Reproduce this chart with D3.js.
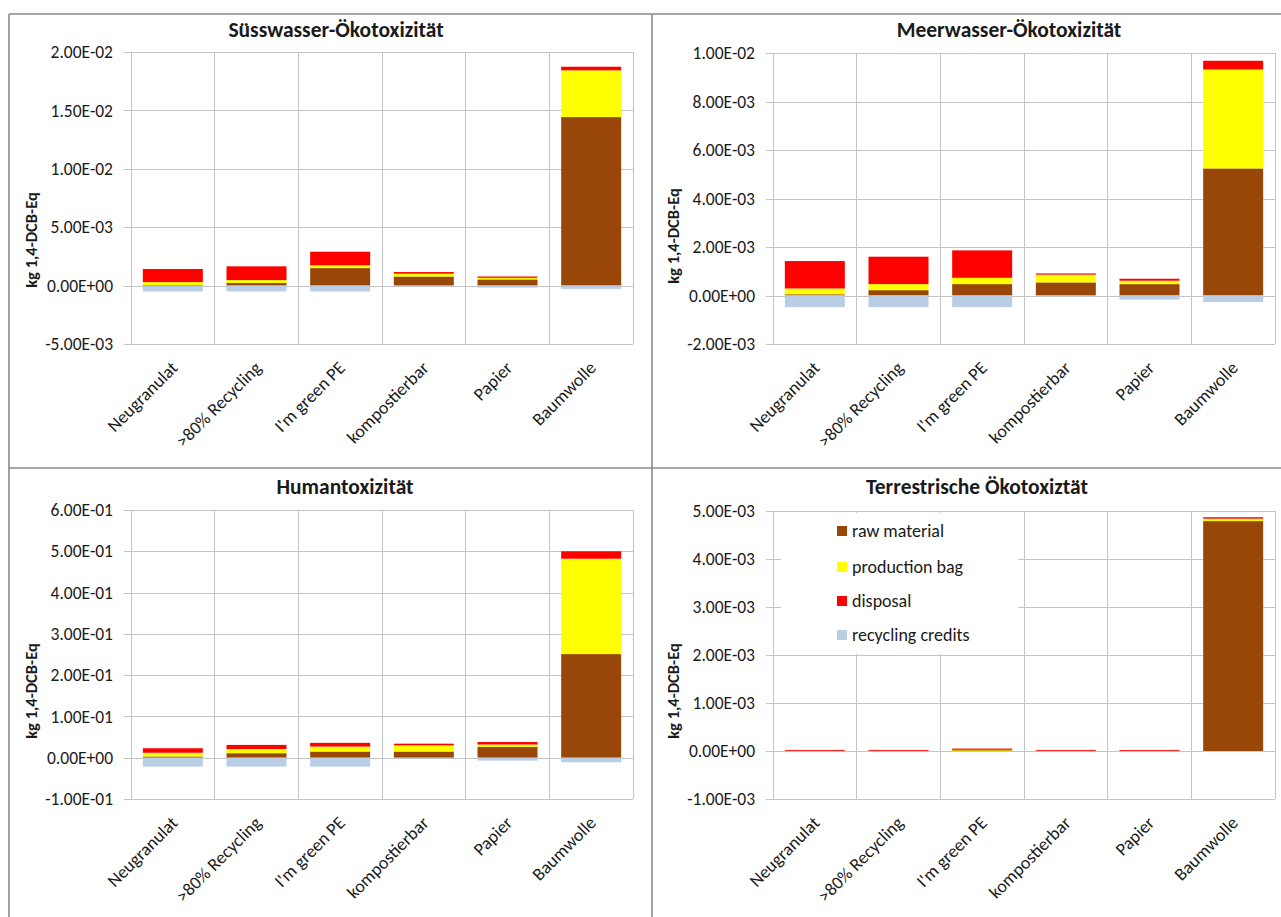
<!DOCTYPE html>
<html>
<head>
<meta charset="utf-8">
<script src="https://cdn.jsdelivr.net/npm/d3@7/dist/d3.min.js"></script>
<style>
  html, body { margin: 0; padding: 0; background: #fff; }
  svg { display: block; }
  text { font-family: Calibri, Carlito, Lato, "Liberation Sans", Arial, sans-serif; fill: #1a1a1a; }
</style>
</head>
<body>
<svg id="chart" width="1281" height="917"></svg>
<script>
// ---------- data ----------
const categories = ["Neugranulat", ">80% Recycling", "I'm green PE", "kompostierbar", "Papier", "Baumwolle"];
const seriesKeys = ["raw material", "production bag", "disposal", "recycling credits"];
const seriesColors = ["#994708", "#FFFF00", "#FF0000", "#B9CDE5"];
const yAxisTitle = "kg 1,4-DCB-Eq";

// Süsswasser-Ökotoxizität
const suessRaw    = [0.00003, 0.00022, 0.00150, 0.00078, 0.00053, 0.01443];
const suessProd   = [0.00027, 0.00025, 0.00024, 0.00024, 0.00014, 0.00400];
const suessDisp   = [0.00112, 0.00118, 0.00116, 0.00014, 0.00011, 0.00031];
const suessCredit = [-0.00050, -0.00050, -0.00050, -0.00002, -0.00018, -0.00028];
const suessTicks  = [-0.005, 0, 0.005, 0.01, 0.015, 0.02];

// Meerwasser-Ökotoxizität
const meerRaw    = [0.00005, 0.00022, 0.00047, 0.00054, 0.00047, 0.00524];
const meerProd   = [0.00024, 0.00025, 0.00026, 0.00032, 0.00014, 0.00408];
const meerDisp   = [0.00113, 0.00113, 0.00113, 0.00005, 0.00008, 0.00036];
const meerCredit = [-0.00048, -0.00048, -0.00048, -0.00001, -0.00017, -0.00027];
const meerTicks  = [-0.002, 0, 0.002, 0.004, 0.006, 0.008, 0.01];

// Humantoxizität
const humanRaw    = [0.003, 0.011, 0.015, 0.015, 0.026, 0.251];
const humanProd   = [0.009, 0.010, 0.012, 0.015, 0.006, 0.231];
const humanDisp   = [0.011, 0.010, 0.009, 0.004, 0.006, 0.018];
const humanCredit = [-0.0216, -0.0216, -0.0216, -0.001, -0.007, -0.011];
const humanTicks  = [-0.1, 0, 0.1, 0.2, 0.3, 0.4, 0.5, 0.6];

// Terrestrische Ökotoxiztät
const terrRaw    = [0.000002, 0.000002, 0.000020, 0.000002, 0.000002, 0.00479];
const terrProd   = [0.000002, 0.000002, 0.000005, 0.000002, 0.000002, 0.00005];
const terrDisp   = [0.000018, 0.000018, 0.000025, 0.000018, 0.000018, 0.00003];
const terrCredit = [-0.000003, -0.000003, -0.000003, -0.000001, -0.000002, -0.000003];
const terrTicks  = [-0.001, 0, 0.001, 0.002, 0.003, 0.004, 0.005];

// ---------- layout ----------
const panels = [
  { title: "Süsswasser-Ökotoxizität", series: [suessRaw, suessProd, suessDisp, suessCredit], ticks: suessTicks,
    plot: { l: 131, r: 633, t: 52, b: 344 }, titleX: 336, titleY: 37, ylx: 37, yly: 240, legend: false },
  { title: "Meerwasser-Ökotoxizität", series: [meerRaw, meerProd, meerDisp, meerCredit], ticks: meerTicks,
    plot: { l: 773, r: 1275, t: 53, b: 344 }, titleX: 1009, titleY: 37, ylx: 679, yly: 236, legend: false },
  { title: "Humantoxizität", series: [humanRaw, humanProd, humanDisp, humanCredit], ticks: humanTicks,
    plot: { l: 131, r: 633, t: 510, b: 799 }, titleX: 345, titleY: 494, ylx: 37, yly: 691, legend: false },
  { title: "Terrestrische Ökotoxiztät", series: [terrRaw, terrProd, terrDisp, terrCredit], ticks: terrTicks,
    plot: { l: 773, r: 1275, t: 511, b: 799 }, titleX: 977, titleY: 494, ylx: 679, yly: 691, legend: true }
];

const fmt = v => {
  const [m, e] = v.toExponential(2).split("e");
  return m + "E" + e[0] + String(Math.abs(+e)).padStart(2, "0");
};

const svg = d3.select("#chart");
svg.append("rect").attr("width", 1281).attr("height", 917).attr("fill", "#fff");

const gridColor = "#c4c4c4";
const fontFam = 'Calibri, Carlito, Lato, "Liberation Sans", Arial, sans-serif';

panels.forEach(p => {
  const g = svg.append("g");
  const { l, r, t, b } = p.plot;
  const domain = [p.ticks[0], p.ticks[p.ticks.length - 1]];
  const y = d3.scaleLinear().domain(domain).range([b, t]);
  const x = d3.scaleBand().domain(categories).range([l, r]).padding(0);
  const barW = x.bandwidth() * 0.717;

  // horizontal gridlines + y axis
  const yAxis = d3.axisLeft(y).tickValues(p.ticks).tickFormat(fmt).tickSize(-(r - l)).tickSizeOuter(0);
  const ya = g.append("g").attr("transform", `translate(${l},0)`).call(yAxis);
  ya.select(".domain").attr("stroke", gridColor).attr("shape-rendering", "crispEdges");
  ya.selectAll(".tick line").attr("stroke", gridColor).attr("shape-rendering", "crispEdges")
    .attr("x1", -7).attr("x2", r - l);
  ya.selectAll(".tick text").attr("x", -18).attr("font-size", "17.5px")
    .style("font-family", fontFam).attr("fill", "#1a1a1a");

  // vertical gridlines at category boundaries
  const bounds = categories.map(c => x(c)).concat([r]);
  g.append("g").selectAll("line").data(bounds).join("line")
    .attr("x1", d => d).attr("x2", d => d).attr("y1", t).attr("y2", b)
    .attr("stroke", gridColor).attr("shape-rendering", "crispEdges");

  // legend background (covers grid)
  if (p.legend) {
    g.append("rect").attr("x", 781).attr("y", 513).attr("width", 237).attr("height", 141).attr("fill", "#fff");
  }

  // stacked bars
  const rows = categories.map((c, i) => {
    const o = { cat: c };
    seriesKeys.forEach((k, j) => o[k] = p.series[j][i]);
    return o;
  });
  const stacked = d3.stack().keys(seriesKeys).offset(d3.stackOffsetDiverging)(rows);
  stacked.forEach((s, j) => {
    g.append("g").attr("fill", seriesColors[j]).selectAll("rect").data(s).join("rect")
      .attr("x", d => x(d.data.cat) + (x.bandwidth() - barW) / 2)
      .attr("width", barW)
      .attr("y", d => y(Math.max(d[0], d[1])))
      .attr("height", d => Math.max(0.8, Math.abs(y(d[0]) - y(d[1]))));
  });

  // category labels
  g.append("g").selectAll("text").data(categories).join("text")
    .attr("transform", d => `translate(${x(d) + x.bandwidth() / 2 + 6},${b + 25}) rotate(-45)`)
    .attr("text-anchor", "end").attr("font-size", "18px").text(d => d);

  // title
  g.append("text").attr("x", p.titleX).attr("y", p.titleY).attr("text-anchor", "middle")
    .attr("font-size", "21.5px").attr("font-weight", "bold").text(p.title);

  // y axis title
  g.append("text").attr("transform", `translate(${p.ylx},${p.yly}) rotate(-90)`)
    .attr("text-anchor", "middle").attr("font-size", "16.5px").attr("font-weight", "bold").text(yAxisTitle);

  // legend
  if (p.legend) {
    const lg = g.append("g");
    const ly = [531, 567, 601, 635];
    seriesKeys.forEach((k, j) => {
      lg.append("rect").attr("x", 837).attr("y", ly[j] - 5).attr("width", 10).attr("height", 10).attr("fill", seriesColors[j]);
      lg.append("text").attr("x", 852).attr("y", ly[j]).attr("dy", "0.35em").attr("font-size", "18px").text(k);
    });
  }
});

// panel borders
const borderColor = "#8a8a8a";
const borders = [
  [9, 14, 1281, 14], [9, 14, 9, 917], [652, 14, 652, 917], [9, 468, 1281, 468]
];
svg.append("g").selectAll("line").data(borders).join("line")
  .attr("x1", d => d[0]).attr("y1", d => d[1]).attr("x2", d => d[2]).attr("y2", d => d[3])
  .attr("stroke", borderColor).attr("stroke-width", 1.6);
</script>
</body>
</html>
